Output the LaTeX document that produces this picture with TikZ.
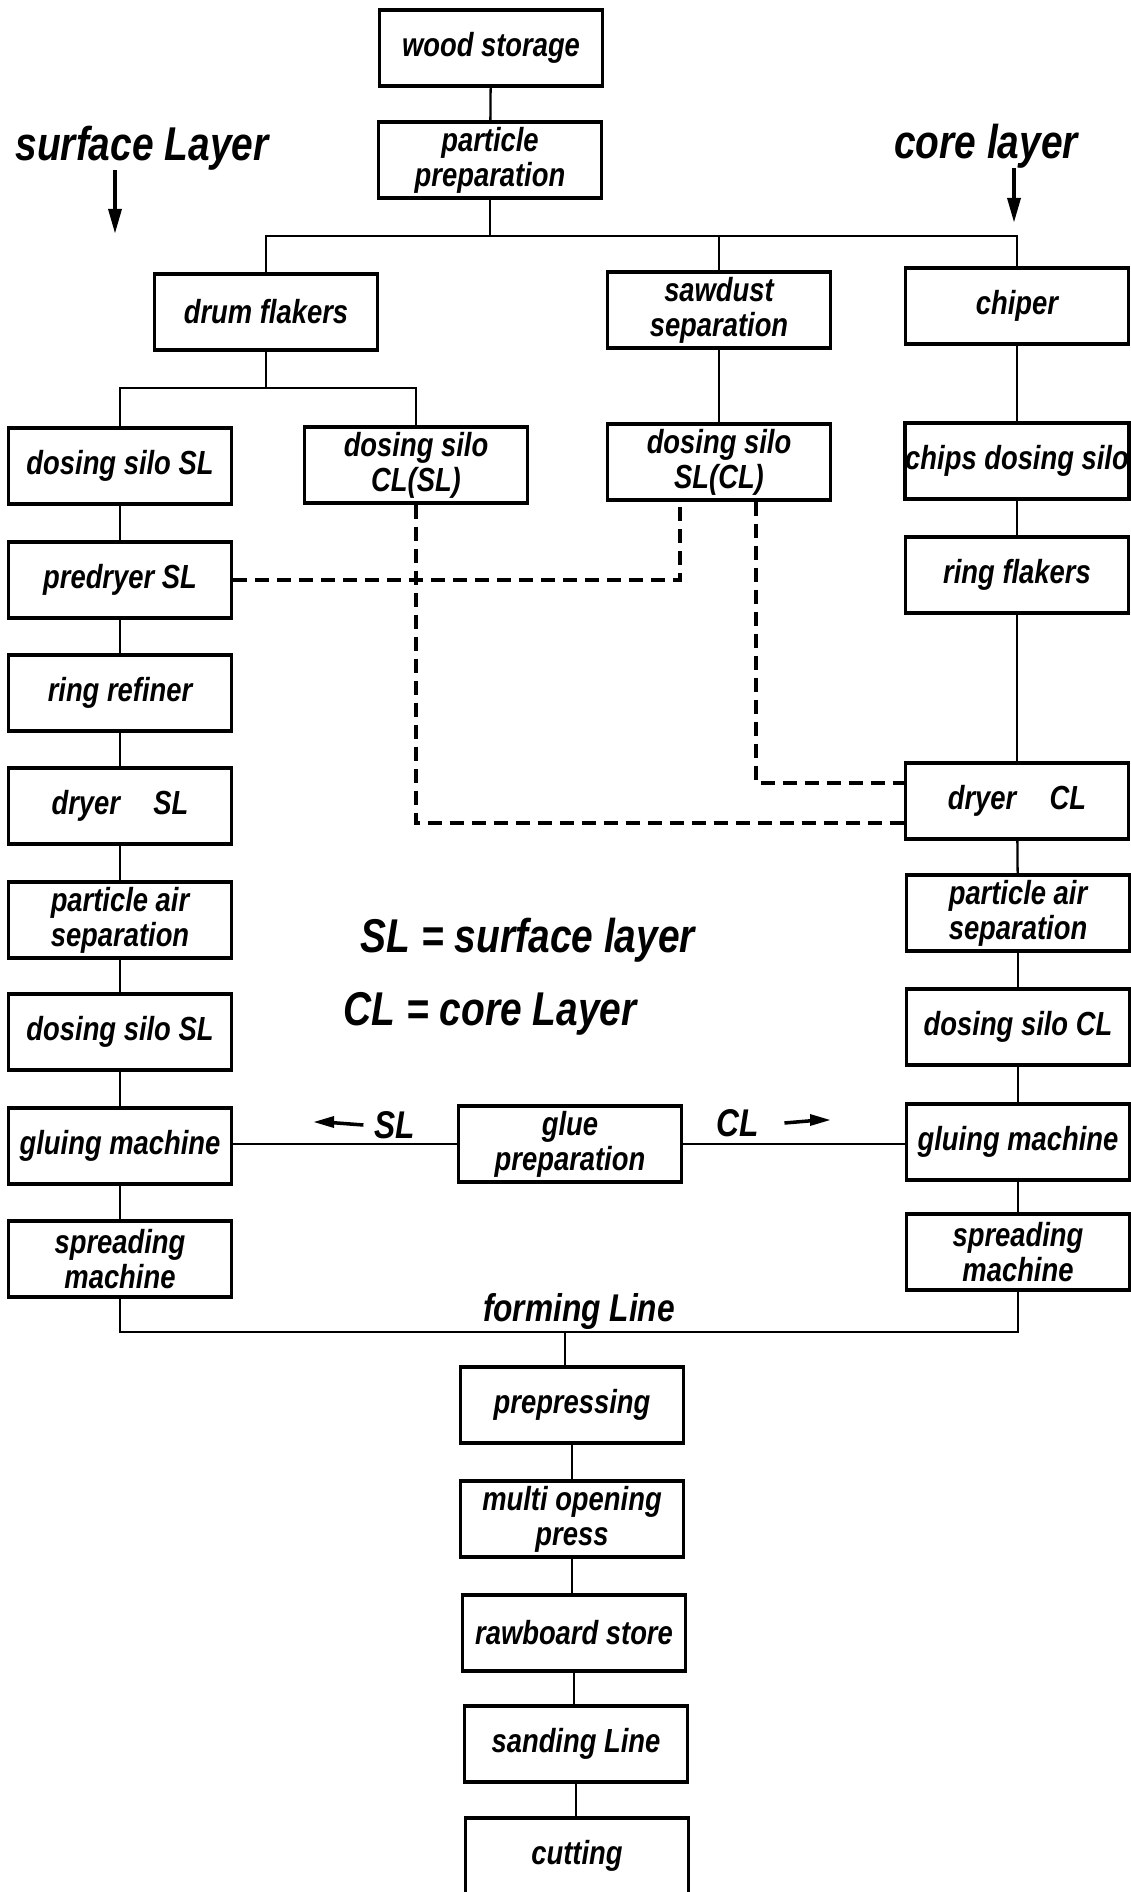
\documentclass[tikz,border=0pt]{standalone}
\usepackage{fontspec}
\newfontfamily\handfont[FakeStretch=0.82]{Liberation Sans}
\newcommand{\hand}{\handfont\bfseries\itshape\fontsize{19}{20}\selectfont}
\newcommand{\handmid}{\handfont\bfseries\itshape\fontsize{22}{24}\selectfont}
\newcommand{\handbig}{\handfont\bfseries\itshape\fontsize{27}{30}\selectfont}

\begin{document}
\begin{tikzpicture}[x=0.02cm,y=-0.02cm]
\tikzstyle{every node}+=[inner sep=0pt]
\tikzstyle{stage}=[draw, line width=2pt, minimum width=4.46cm, minimum height=1.52cm, align=center, font=\hand]
\tikzstyle{link}=[line width=1.3pt]
\tikzstyle{backlink}=[line width=2pt, dash pattern=on 0.28cm off 0.16cm]
\tikzstyle{note}=[font=\handbig]
\useasboundingbox (0,0) rectangle (1131,1892);

\node[stage] (store) at (491,48) {wood storage};
\node[stage] (prep) at (490,160) {particle\\preparation};

\node[stage] (drum) at (266,312) {drum flakers};
\node[stage] (saw) at (719,310) {sawdust\\separation};
\node[stage] (chip) at (1017,306) {chiper};

\node[stage] (siloSL) at (120,466) {dosing silo SL};
\node[stage] (siloCLSL) at (416,465) {dosing silo\\CL(SL)};
\node[stage] (siloSLCL) at (719,462) {dosing silo\\SL(CL)};
\node[stage] (chipsilo) at (1017,461) {chips dosing silo};

\node[stage] (predryer) at (120,580) {predryer SL};
\node[stage] (refiner) at (120,693) {ring refiner};
\node[stage] (dryerSL) at (120,806) {dryer\quad SL};
\node[stage] (airSL) at (120,920) {particle air\\separation};
\node[stage] (dsiloSL) at (120,1032) {dosing silo SL};
\node[stage] (glueSL) at (120,1146) {gluing machine};
\node[stage] (spreadSL) at (120,1259) {spreading\\machine};

\node[stage] (ringfl) at (1017,575) {ring flakers};
\node[stage] (dryerCL) at (1017,801) {dryer\quad CL};
\node[stage] (airCL) at (1018,913) {particle air\\separation};
\node[stage] (dsiloCL) at (1018,1027) {dosing silo CL};
\node[stage] (glueCL) at (1018,1142) {gluing machine};
\node[stage] (spreadCL) at (1018,1252) {spreading\\machine};

\node[stage] (glue) at (570,1144) {glue\\preparation};

\node[stage] (prepress) at (572,1405) {prepressing};
\node[stage] (multi) at (572,1519) {multi opening\\press};
\node[stage] (raw) at (574,1633) {rawboard store};
\node[stage] (sand) at (576,1744) {sanding Line};
\node[stage] (cut) at (577,1856) {cutting};

\node[note] (surf) at (142,148) {surface Layer};
\node[note] (core) at (986,146) {core layer};
\node[note] (legendSL) at (528,940) {SL = surface layer};
\node[note] (legendCL) at (490,1014) {CL = core Layer};
\node[font=\handmid] (formtxt) at (579,1311) {forming Line};
\node[font=\handmid] (slnote) at (395,1125) {SL};
\node[font=\handmid] (clnote) at (738,1123) {CL};

\coordinate (surfend) at (115,233);
\draw[line width=2pt] (surf.south -| surfend) -- ([yshift=0.2cm]surfend);
\fill (surfend) -- ++(-7,-24) -- ++(14,0) -- cycle;
\coordinate (coreend) at (1014,222);
\draw[line width=2pt] (core.south -| coreend) -- ([yshift=0.2cm]coreend);
\fill (coreend) -- ++(-7,-24) -- ++(14,0) -- cycle;

\draw[link] (store) -- (prep);
\coordinate (bus) at (490,236);
\draw[link] (prep) -- (bus);
\draw[link] (drum.north) |- (bus) -| (chip.north);
\draw[link] (bus -| saw.north) -- (saw.north);

\coordinate (drumfork) at (266,388);
\draw[link] (drum) -- (drumfork);
\draw[link] (siloSL.north) |- (drumfork) -| (siloCLSL.north);
\draw[link] (saw) -- (siloSLCL);
\draw[link] (chip) -- (chipsilo);

\draw[link] (siloSL) -- (predryer);
\draw[link] (predryer) -- (refiner);
\draw[link] (refiner) -- (dryerSL);
\draw[link] (dryerSL) -- (airSL);
\draw[link] (airSL) -- (dsiloSL);
\draw[link] (dsiloSL) -- (glueSL);
\draw[link] (glueSL) -- (spreadSL);

\draw[link] (chipsilo) -- (ringfl);
\draw[link] (ringfl) -- (dryerCL);
\draw[link] (dryerCL) -- (airCL);
\draw[link] (airCL) -- (dsiloCL);
\draw[link] (dsiloCL) -- (glueCL);
\draw[link] (glueCL) -- (spreadCL);

\draw[backlink] (predryer.east) -| ([xshift=-0.78cm]siloSLCL.south);
\draw[backlink] ([xshift=0.74cm]siloSLCL.south) |- ([yshift=0.36cm]dryerCL.west);
\draw[backlink] (siloCLSL.south) |- ([yshift=-0.44cm]dryerCL.west);

\draw[link] (glue.west) -- (glue.west -| glueSL.east);
\draw[link] (glue.east) -- (glue.east -| glueCL.west);
\coordinate (slhead) at (314,1122);
\draw[line width=2pt] ([xshift=-0.22cm]slnote.west) -- ([xshift=0.2cm]slhead);
\fill (slhead) -- ++(20,-6) -- ++(0,12) -- cycle;
\coordinate (clhead) at (830,1120);
\draw[line width=2pt] ([xshift=0.5cm]clnote.east) -- ([xshift=-0.2cm]clhead);
\fill (clhead) -- ++(-20,-6) -- ++(0,12) -- cycle;

\coordinate (formfork) at (565,1332);
\draw[link] (spreadSL.south) |- (formfork) -| (spreadCL.south);
\draw[link] (formfork) -- (formfork |- prepress.north);
\draw[link] (prepress.south) -- (prepress.south |- multi.north);
\draw[link] (multi.south) -- (multi.south |- raw.north);
\draw[link] (raw.south) -- (raw.south |- sand.north);
\draw[link] (sand.south) -- (sand.south |- cut.north);
\end{tikzpicture}
\end{document}
